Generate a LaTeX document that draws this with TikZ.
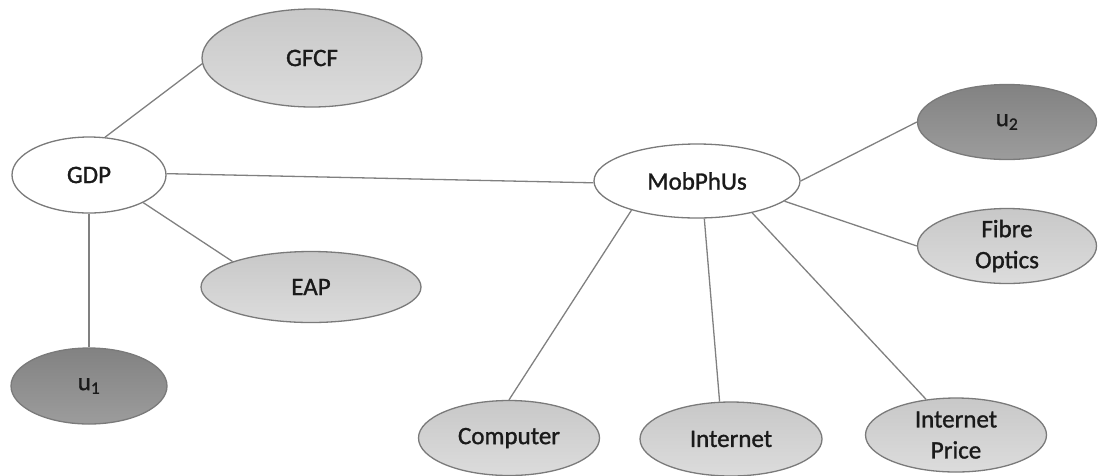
\documentclass[tikz,border=0pt]{standalone}
\usepackage{fontspec}
\setmainfont{Carlito}
\newfontfamily\nodefont{Carlito}[FakeBold=1.2]
\usetikzlibrary{shapes.geometric}
\definecolor{edgegray}{HTML}{7A7A7A}
\definecolor{linegray}{HTML}{808080}
\definecolor{lighttop}{HTML}{C8C8C8}
\definecolor{lightbot}{HTML}{DCDCDC}
\definecolor{darktop}{HTML}{828282}
\definecolor{darkbot}{HTML}{9C9C9C}
\definecolor{txt}{HTML}{1A1A1A}
\begin{document}
\begin{tikzpicture}[x=1pt,y=-1pt,
  base/.style={ellipse, draw=edgegray, line width=1.3pt, inner sep=0pt,
    text=txt, align=center, font=\nodefont\fontsize{25}{31}\selectfont},
  whitenode/.style={base, fill=white},
  lightnode/.style={base, top color=lighttop, bottom color=lightbot},
  darknode/.style={base, top color=darktop, bottom color=darkbot},
  conn/.style={draw=linegray, line width=1.3pt}]
\useasboundingbox (0,0) rectangle (1099,475);

\node[lightnode, minimum width=220pt, minimum height=98pt] (gfcf) at (312,58) {GFCF};
\node[whitenode, minimum width=154pt, minimum height=76pt] (gdp) at (89,175) {GDP};
\node[lightnode, minimum width=220pt, minimum height=71pt] (eap) at (311,287) {EAP};
\node[darknode, minimum width=156pt, minimum height=76pt] (u1) at (89,386) {u\textsubscript{1}};
\node[whitenode, minimum width=206pt, minimum height=74pt] (mob) at (697,181) {MobPhUs};
\node[darknode, minimum width=179pt, minimum height=75pt] (u2) at (1007,122) {u\textsubscript{2}};
\node[lightnode, minimum width=179pt, minimum height=75pt] (fibre) at (1007,246) {Fibre\\Optics};
\node[lightnode, minimum width=181pt, minimum height=75pt] (comp) at (509,438) {Computer};
\node[lightnode, minimum width=182pt, minimum height=74pt] (inet) at (731,439) {Internet};
\node[lightnode, minimum width=181pt, minimum height=74pt] (price) at (956,435) {Internet\\Price};

\draw[conn] (gdp.67) -- (gfcf.183);
\draw[conn] (gdp.1) -- (mob.181);
\draw[conn] (gdp.333) -- (eap.162);
\draw[conn] (gdp.270) -- (u1.90);
\draw[conn] (mob.0) -- (u2.180);
\draw[conn] (mob.347) -- (fibre.180);
\draw[conn] (mob.204) -- (comp.90);
\draw[conn] (mob.281) -- (inet.107);
\draw[conn] (mob.330) -- (price.130);
\end{tikzpicture}
\end{document}
